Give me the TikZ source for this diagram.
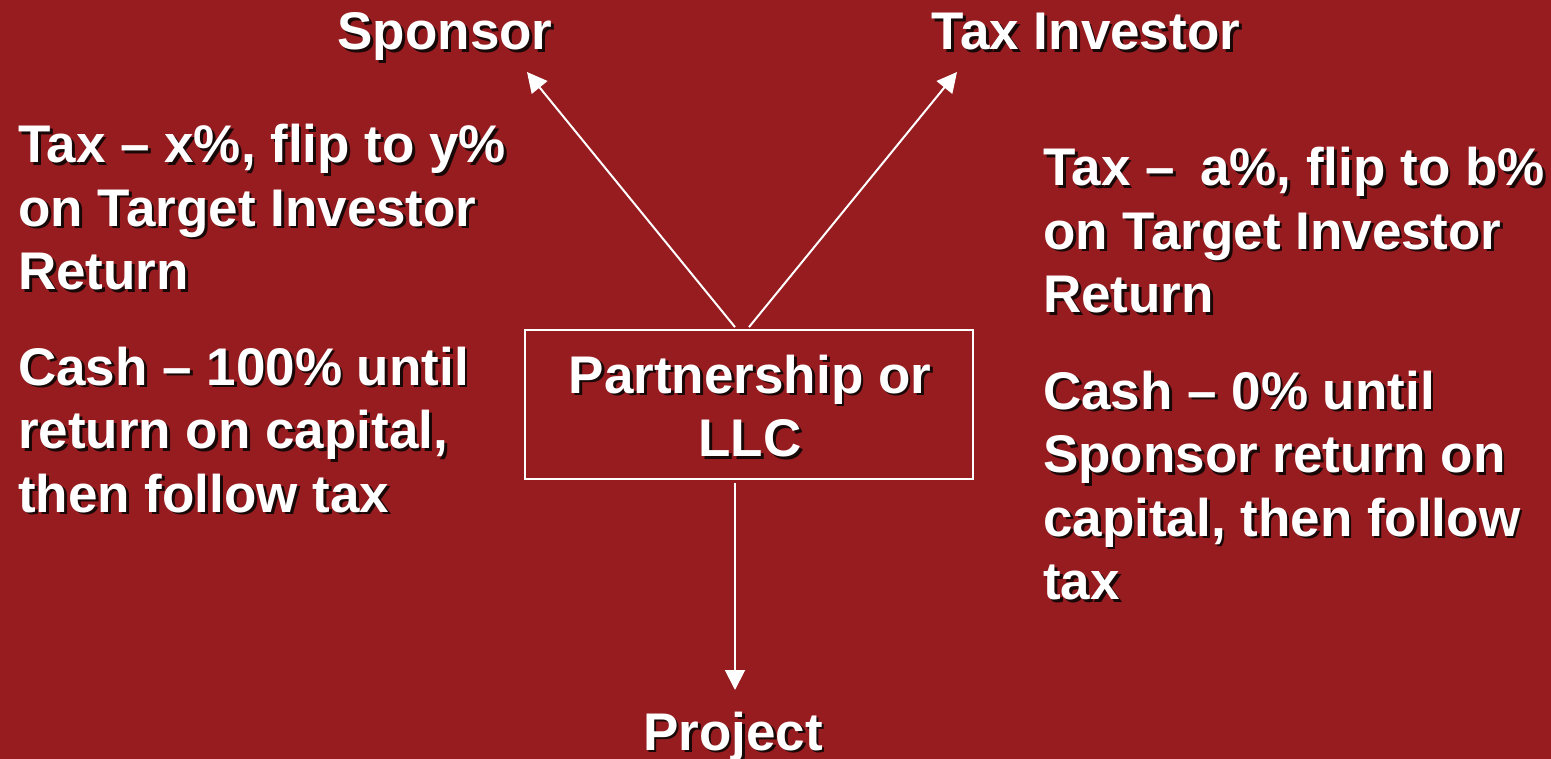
\documentclass[tikz,border=0pt]{standalone}
\usepackage{fontspec}
\setmainfont{Liberation Sans}
\usetikzlibrary{arrows.meta}
\definecolor{bg}{RGB}{150,28,32}
\definecolor{shd}{RGB}{25,8,8}
\newcommand\shnode[4]{%
  \node[txt,#3,text=shd,xshift=2.8pt,yshift=-2.8pt] at (#2) {#4};
  \node[txt,#3] (#1) at (#2) {#4};}
\begin{document}
\begin{tikzpicture}[x=1pt,y=-1pt,
  txt/.style={inner sep=0pt,text=white,font=\bfseries\fontsize{53}{63.5}\selectfont},
  arr/.style={draw=white,line width=2pt,-{Triangle[length=20pt,width=20pt]}},
  boxstyle/.style={draw=white,line width=1.8pt,minimum width=448pt,minimum height=149pt,inner sep=0pt}]
\fill[bg] (0,0) rectangle (1551,759);
\useasboundingbox (0,0) rectangle (1551,759);
% titles
\shnode{sponsor}{445,50}{anchor=base}{Sponsor}
\shnode{taxinv}{1086,50}{anchor=base}{Tax Investor}
\shnode{project}{733,750}{anchor=base}{Project}
% side texts
\shnode{lefttext}{18,124}{anchor=north west,align=left}{Tax – x\%, flip to y\%\\on Target Investor\\Return\\[32pt]Cash – 100\% until\\return on capital,\\then follow tax}
\shnode{righttext}{1043,147}{anchor=north west,align=left}{Tax –\hspace{0.48em}a\%, flip to b\%\\on Target Investor\\Return\\[33pt]Cash – 0\% until\\Sponsor return on\\capital, then follow\\tax}
% box
\node[txt,align=center,text=shd,xshift=2.8pt,yshift=-2.8pt] at (750,406) {Partnership or\\LLC};
\node[boxstyle] (box) at (749,404.5) {};
\node[txt,align=center] (boxtext) at (750,406) {Partnership or\\LLC};
% arrows
\coordinate (sTip) at (527,72);
\coordinate (tTip) at (957,72);
\coordinate (pTip) at (735,690);
\draw[arr] ([xshift=-14pt,yshift=2pt]box.north) -- (sTip);
\draw[arr] ([yshift=2pt]box.north) -- (tTip);
\draw[arr] ([xshift=-14pt,yshift=-3pt]box.south) -- (pTip);
\end{tikzpicture}
\end{document}
